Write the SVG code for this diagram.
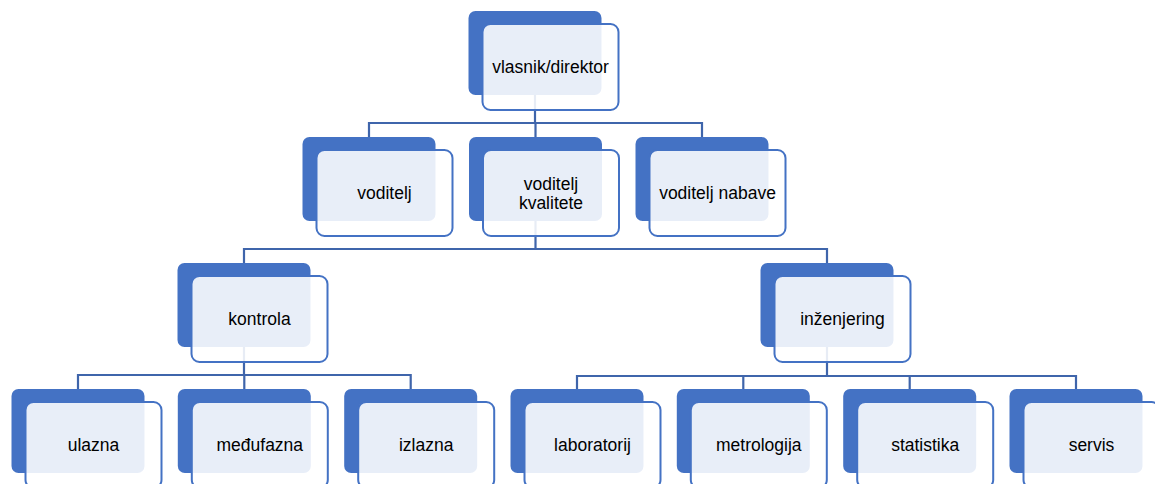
<svg xmlns="http://www.w3.org/2000/svg" width="1155" height="484" viewBox="0 0 1155 484">
<style>
.back{fill:#4472C4;}
.front{fill:#FFFFFF;fill-opacity:0.88;stroke:#4472C4;stroke-width:2;}
.lbl{font-family:"Liberation Sans",Arial,sans-serif;font-size:17.5px;fill:#000;text-anchor:middle;}
.conn{fill:none;stroke:#3F65AB;stroke-width:2.2;}
</style>
<defs>
<rect id="bk" class="back" x="0" y="0" width="133" height="84" rx="7"/>
<rect id="fr" class="front" x="14" y="13" width="136" height="86" rx="8"/>
</defs>
<rect width="1155" height="484" fill="#FFFFFF"/>
<g id="connectors">
<path class="conn" d="M535,94V123M369,123H702M369,122V137M702,122V137M535.5,123V137"/>
<path class="conn" d="M535.5,221V249M244,249H827M244,248V263M827,248V263"/>
<path class="conn" d="M244,347V375M78,375H411M78,374V389M244.3,375V389M410.7,374V389"/>
<path class="conn" d="M827,347V376M577,376H1076M577,375V389M743.3,376V389M909.7,376V389M1076,375V389"/>
</g>
<g id="n-vlasnik" transform="translate(468.5,11)"><use href="#bk"/><use href="#fr"/><text class="lbl" x="82" y="62">vlasnik/direktor</text></g>
<g id="n-voditelj" transform="translate(302.5,137)"><use href="#bk"/><use href="#fr"/><text class="lbl" x="82" y="62">voditelj</text></g>
<g id="n-kvalitete" transform="translate(469,137)"><use href="#bk"/><use href="#fr"/><text class="lbl" x="82" y="53">voditelj</text><text class="lbl" x="82" y="72">kvalitete</text></g>
<g id="n-nabave" transform="translate(635.5,137)"><use href="#bk"/><use href="#fr"/><text class="lbl" x="82" y="62">voditelj nabave</text></g>
<g id="n-kontrola" transform="translate(177.5,263)"><use href="#bk"/><use href="#fr"/><text class="lbl" x="82" y="62">kontrola</text></g>
<g id="n-inzenjering" transform="translate(760.5,263)"><use href="#bk"/><use href="#fr"/><text class="lbl" x="82" y="62">inženjering</text></g>
<g id="n-ulazna" transform="translate(11.5,389)"><use href="#bk"/><use href="#fr"/><text class="lbl" x="82" y="62">ulazna</text></g>
<g id="n-medufazna" transform="translate(177.8,389)"><use href="#bk"/><use href="#fr"/><text class="lbl" x="82" y="62">međufazna</text></g>
<g id="n-izlazna" transform="translate(344.2,389)"><use href="#bk"/><use href="#fr"/><text class="lbl" x="82" y="62">izlazna</text></g>
<g id="n-laboratorij" transform="translate(510.5,389)"><use href="#bk"/><use href="#fr"/><text class="lbl" x="82" y="62">laboratorij</text></g>
<g id="n-metrologija" transform="translate(676.8,389)"><use href="#bk"/><use href="#fr"/><text class="lbl" x="82" y="62">metrologija</text></g>
<g id="n-statistika" transform="translate(843.2,389)"><use href="#bk"/><use href="#fr"/><text class="lbl" x="82" y="62">statistika</text></g>
<g id="n-servis" transform="translate(1009.5,389)"><use href="#bk"/><use href="#fr"/><text class="lbl" x="82" y="62">servis</text></g>
</svg>
